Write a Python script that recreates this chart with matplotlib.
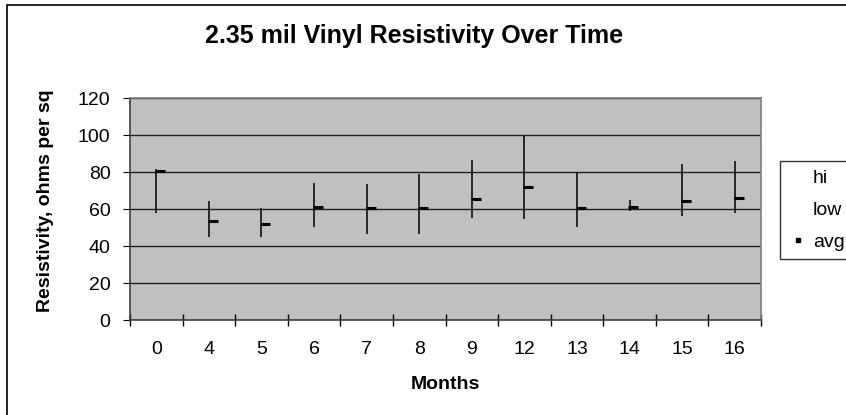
import matplotlib
matplotlib.use("Agg")
import matplotlib.pyplot as plt
from matplotlib.lines import Line2D
from matplotlib.patches import Rectangle

plt.rcParams['font.family'] = ['Liberation Sans', 'DejaVu Sans']

months = ['0', '4', '5', '6', '7', '8', '9', '12', '13', '14', '15', '16']
hi = [81.4, 64.1, 60.8, 74.0, 73.3, 78.7, 86.5, 99.7, 79.8, 65.1, 84.1, 85.9]
low = [57.9, 44.7, 44.7, 50.5, 46.3, 46.3, 55.4, 54.6, 50.5, 59.0, 56.2, 57.9]
avg = [80.5, 53.5, 51.9, 61.1, 60.4, 60.4, 65.3, 71.8, 60.4, 61.1, 64.4, 66.0]

W, H = 846, 415
fig = plt.figure(figsize=(W / 100, H / 100), dpi=100)
ax = fig.add_axes([130 / W, 1 - 320 / H, 631 / W, 222 / H])

# outer chart border (right/bottom cut off in the original)
fig.patches.append(Rectangle((7 / W, -0.1), 1.2, 1 - 5 / H + 0.1,
                             transform=fig.transFigure, fill=False,
                             edgecolor='black', linewidth=1.2))

ax.set_facecolor('#c0c0c0')
x = list(range(len(months)))
ax.vlines(x, low, hi, color='black', linewidth=1.1, zorder=3)
for xi, a in zip(x, avg):
    ax.plot([xi - 0.02, xi + 0.17], [a, a], color='black', linewidth=2.2,
            solid_capstyle='butt', zorder=4)

ax.set_xlim(-0.5, len(months) - 0.5)
ax.set_ylim(0, 120)
ax.set_yticks(range(0, 121, 20))
ax.yaxis.grid(True, color='#202020', linewidth=1)
ax.set_axisbelow(True)
ax.set_xticks(x)
ax.set_xticklabels(months, fontsize=14)
ax.set_xticks([i - 0.5 for i in range(len(months) + 1)], minor=True)
ax.tick_params(axis='x', which='major', length=0, pad=15)
ax.tick_params(axis='x', which='minor', direction='inout', length=9, width=1)
ax.tick_params(axis='y', direction='out', length=5, labelsize=14, pad=9)

for s in ['top', 'right']:
    ax.spines[s].set_color('#808080')
    ax.spines[s].set_linewidth(1.2)
for s in ['left', 'bottom']:
    ax.spines[s].set_color('#404040')
    ax.spines[s].set_linewidth(1.2)

ax.set_xlabel('Months', fontsize=14, fontweight='bold')
ax.xaxis.set_label_coords(0.5, (320 - 384) / 222)
ax.xaxis.label.set_va('center')
ax.set_ylabel('Resistivity, ohms per sq', fontsize=14, fontweight='bold')
ax.yaxis.set_label_coords((45 - 130) / 631, (320 - 201) / 222)
ax.yaxis.label.set_va('center')

fig.text(414 / W, 1 - 43 / H, '2.35 mil Vinyl Resistivity Over Time',
         ha='center', va='baseline', fontsize=18, fontweight='bold')

handles = [Line2D([], [], linestyle='none'),
           Line2D([], [], linestyle='none'),
           Line2D([], [], marker='s', markersize=2.5, color='black', linestyle='none')]
leg = fig.legend(handles, ['hi', 'low', 'avg'], loc='upper left',
                 bbox_to_anchor=(780 / W, 1 - 161 / H), fontsize=14,
                 frameon=True, fancybox=False, edgecolor='black',
                 handlelength=0.93, handletextpad=0.31, borderpad=0.45,
                 labelspacing=0.72, borderaxespad=0)
leg.get_frame().set_linewidth(1)

fig.savefig('out.png', dpi=100)
